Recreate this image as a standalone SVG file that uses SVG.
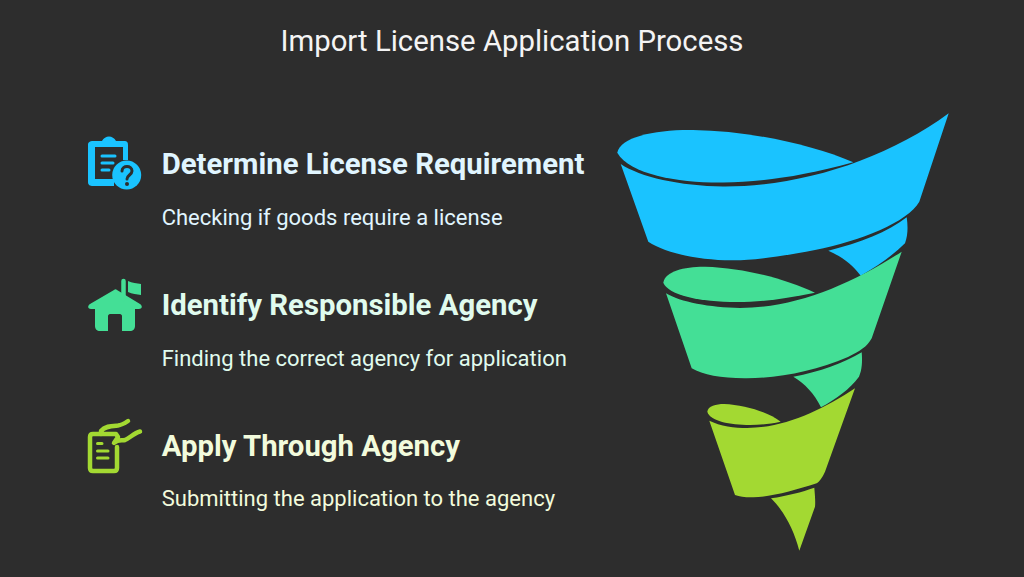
<svg xmlns="http://www.w3.org/2000/svg" width="1024" height="577" viewBox="0 0 1024 577">
<style>
text{font-family:Roboto,"Liberation Sans",sans-serif}
.t{font-size:29.330px;fill:#f4f4f4;text-anchor:middle}
.h{font-size:29.330px;font-weight:700}
.s{font-size:22px}
.blue{fill:#1ac3ff}.green{fill:#44df96}.lime{fill:#a3d932}
.bt{fill:#e0f5ff}.gt{fill:#e0fbee}.lt{fill:#f2fbdc}
.ln{fill:none;stroke-linecap:round;stroke-linejoin:round}
</style>
<rect width="1024" height="577" fill="#2d2d2d"/>
<text class="t" x="512" y="51">Import License Application Process</text>
<g id="node-1">
<path class="blue" d="M617.300 152.700C620 137 655 129.500 693 130C750 131 810 144 853.300 162.300C800 177 760 182 723 182.500C680 183 630 175 617.300 152.700Z"/>
<path class="blue" d="M620.700 164C640 177 680 186 723 186.500C800 187 885 160 948.700 113.300L919.300 201.700C908 222 860 241 815 250C780 257 750 260.500 733 260.300C700 260.500 665 253 648.300 241.700Z"/>
<path class="blue" d="M906.700 217.300C908 226 908 235 905 243.300C893 255 878 266 860.700 275.700C852 264 842 257 828.300 250.700C860 243 888 232 906.700 217.300Z"/>
<path class="blue" fill-rule="evenodd" d="M93 141H102C105 135 113 135 116 141H124C127 141 128 142 128 145V160H123V147H95V179H114V186H93C90 186 88 185 88 182V145C88 142 90 141 93 141Z"/>
<path class="ln" stroke="#1ac3ff" stroke-width="3" d="M102 156H115M102 163H113M102 170H109"/>
<circle class="blue" cx="126.700" cy="175" r="14.500"/>
<path class="ln" stroke="#2d2d2d" stroke-width="3" d="M122 171C122 165 132 165 132 171C132 175 127 175 127 179"/>
<circle cx="127" cy="184" r="2" fill="#2d2d2d"/>
<text class="h bt" x="161.700" y="174">Determine License Requirement</text>
<text class="s bt" x="161.700" y="224.500">Checking if goods require a license</text>
</g>
<g id="node-2">
<path class="green" d="M663.300 282.700C665 271 685 266.500 705 266.700C745 268 785 279 815 292.700C785 299 760 302 737 302C700 302 668 295 663.300 282.700Z"/>
<path class="green" d="M666 293.300C680 302 710 307.500 740 308C795 308 850 285 901.700 251.700L871.700 338.300C867 347 860 351 848 357C815 371 780 378 746.700 378.300C722 378.500 703 375 691.700 368.300Z"/>
<path class="green" d="M861.700 352.300C862.500 362 862 370 859 376.700C850 389 836 399 821 407.300C814 393 805 384 793.300 376.700C820 372 843 363 861.700 352.300Z"/>
<path class="green" d="M114 290C115 289 116 289 117 290L140 304C143 306 142 309 139 309H135V326C135 329 133 331 130 331H122V316C122 315 121 314 120 314H110C109 314 108 315 108 316V331H100C97 331 95 329 95 326V309H91C88 309 87 306 90 304Z"/>
<path class="ln" stroke="#44df96" stroke-width="4.500" d="M123.500 281V299"/>
<path class="green" d="M128 281C132 283 137 283 141 284V295C137 294 132 294 128 292Z"/>
<text class="h gt" x="161.700" y="315">Identify Responsible Agency</text>
<text class="s gt" x="161.700" y="365.500">Finding the correct agency for application</text>
</g>
<g id="node-3">
<path class="lime" d="M707.300 411.700C708 406 716 404 724 404C745 405 768 412 780.700 421.700C770 424 760 425 750 425C730 425 710 421 707.300 411.700Z"/>
<path class="lime" d="M709.300 420.700C720 426 735 428 747 428C785 428 822 410 855 388.300L825 471.700C822 478 820 481 816.700 483.300C795 490 772 497 753.300 497.300C745 497.500 740 496.500 735 495Z"/>
<path class="lime" d="M814.300 487.700C815 495 815.500 502 815 506.700L799.300 550.700C794 530 784 511 771 498.300C787 496 802 492 814.300 487.700Z"/>
<path class="ln" stroke="#a3d932" stroke-width="4.500" d="M101 434H93C91 434 90 435 90 437V468C90 470 91 471 93 471H114C116 471 117 470 117 468V447"/>
<path class="ln" stroke="#a3d932" stroke-width="4.500" d="M101 431C105 426 112 426 118 425.500C122 425 125 423 128 421M101 434H116L118 437L114 443C118 439 122 441 125 440C130 438 134 433 140 431.500"/>
<path class="ln" stroke="#a3d932" stroke-width="3" d="M97.500 443.500H102M97.500 451H108M97.500 458H108"/>
<text class="h lt" x="161.700" y="456">Apply Through Agency</text>
<text class="s lt" x="161.700" y="505.500">Submitting the application to the agency</text>
</g>
<g id="connectors"/>
</svg>
